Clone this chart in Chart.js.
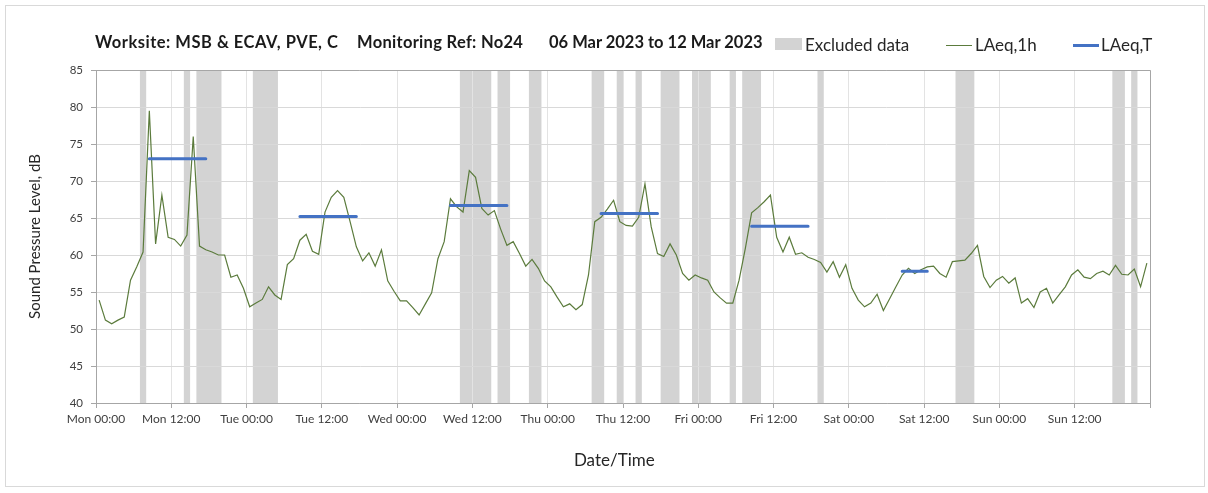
<!DOCTYPE html>
<html>
<head>
<meta charset="utf-8">
<script src="https://cdn.jsdelivr.net/npm/chart.js@4.4.1/dist/chart.umd.min.js"></script>
<style>
body { margin: 0; background: #fff; font-family: Lato, sans-serif; }
#wrap { position: relative; width: 1208px; height: 493px; overflow: hidden; }
#frame { position: absolute; left: 5px; top: 5px; width: 1198px; height: 480px; border: 1px solid #d9d9d9; }
canvas { position: absolute; left: 0; top: 0; }
.ttl { position: absolute; top: 32px; font-weight: bold; font-size: 16.5px; letter-spacing: 0.3px; color: #1a1a1a; white-space: pre; }
.leg { position: absolute; top: 34px; font-size: 17px; color: #262626; white-space: pre; }
.sw { position: absolute; }
</style>
</head>
<body>
<div id="wrap">
  <div id="frame"></div>
  <canvas id="myChart" width="1208" height="493"></canvas>
  <span class="ttl" style="left:95px;letter-spacing:0.5px">Worksite: MSB &amp; ECAV, PVE, C</span>
  <span class="ttl" style="left:357px">Monitoring Ref: No24</span>
  <span class="ttl" style="left:549px;letter-spacing:0">06 Mar 2023 to 12 Mar 2023</span>
  <div class="sw" style="left:775px;top:38px;width:27px;height:12px;background:#d3d3d3"></div>
  <span class="leg" style="left:805px">Excluded data</span>
  <div class="sw" style="left:946px;top:45px;width:26px;height:1px;background:#5b7b3c"></div>
  <span class="leg" style="left:975px">LAeq,1h</span>
  <div class="sw" style="left:1073px;top:44px;width:26px;height:3px;background:#4472c4"></div>
  <span class="leg" style="left:1101px">LAeq,T</span>
</div>
<script>
// hourly LAeq,1h, Mon 00:00 .. Sun 23:00
var laeq1h = [
  53.9, 51.2, 50.7, 51.2, 51.6, 56.6, 58.4, 60.4, 79.5, 61.5, 68.1, 62.4,
  62.1, 61.2, 62.7, 76.0, 61.2, 60.7, 60.4, 60.0, 60.0, 57.0, 57.3, 55.5,
  53.0, 53.5, 54.0, 55.7, 54.6, 54.0, 58.7, 59.5, 62.0, 62.8, 60.5, 60.1,
  65.8, 67.8, 68.7, 67.8, 64.5, 61.1, 59.2, 60.3, 58.5, 60.7, 56.5, 55.1,
  53.8, 53.8, 52.9, 51.9, 53.4, 54.9, 59.5, 61.8, 67.6, 66.5, 65.8, 71.4,
  70.5, 66.3, 65.4, 66.0, 63.5, 61.3, 61.8, 60.2, 58.5, 59.4, 58.2, 56.5,
  55.7, 54.3, 53.0, 53.4, 52.6, 53.3, 57.3, 64.5, 65.1, 66.2, 67.4, 64.5,
  64.0, 63.9, 65.1, 69.6, 63.8, 60.2, 59.8, 61.5, 60.0, 57.5, 56.6, 57.3,
  56.9, 56.6, 55.0, 54.2, 53.5, 53.5, 56.6, 60.9, 65.7, 66.4, 67.2, 68.1,
  62.4, 60.4, 62.4, 60.1, 60.3, 59.7, 59.4, 59.0, 57.7, 59.1, 57.0, 58.7,
  55.5, 53.9, 53.0, 53.5, 54.7, 52.5, 54.1, 55.7, 57.3, 58.2, 57.5, 58.0,
  58.4, 58.5, 57.5, 57.0, 59.1, 59.2, 59.3, 60.2, 61.3, 57.1, 55.6, 56.6,
  57.1, 56.2, 56.9, 53.5, 54.1, 52.9, 55.0, 55.5, 53.5, 54.6, 55.7, 57.3,
  58.0, 57.0, 56.8, 57.5, 57.8, 57.3, 58.6, 57.4, 57.3, 58.1, 55.7, 58.9
];

// LAeq,T periods (hours from Mon 00:00)
var periodStart = [8.5, 32.5, 56.5, 80.5, 104.5, 128.5];
var periodEnd = [17.5, 41.5, 65.5, 89.5, 113.5, 132.5];
var periodLevel = [73.0, 65.2, 66.7, 65.6, 63.9, 57.8];

// excluded data windows (hours)
var excludedStart = [7, 14, 16, 25, 58, 64, 69, 79, 83, 86, 90, 95, 101, 103, 115, 137, 162, 165];
var excludedEnd = [8, 15, 20, 29, 63, 66, 71, 81, 84, 87, 93, 98, 102, 106, 116, 140, 164, 166];

var tickLabels = ['Mon 00:00', 'Mon 12:00', 'Tue 00:00', 'Tue 12:00', 'Wed 00:00', 'Wed 12:00',
  'Thu 00:00', 'Thu 12:00', 'Fri 00:00', 'Fri 12:00', 'Sat 00:00', 'Sat 12:00',
  'Sun 00:00', 'Sun 12:00', ''];

var hourlyPts = laeq1h.map(function (v, i) { return { x: i + 0.5, y: v }; });
var periodPts = [];
for (var k = 0; k < periodStart.length; k++) {
  periodPts.push({ x: periodStart[k], y: periodLevel[k] });
  periodPts.push({ x: periodEnd[k], y: periodLevel[k] });
  periodPts.push({ x: periodEnd[k], y: null });
}

const bandPlugin = {
  id: 'bands',
  beforeDraw(chart) {
    const ctx = chart.ctx, a = chart.chartArea, x = chart.scales.x;
    ctx.save();
    ctx.fillStyle = '#d3d3d3';
    for (let k = 0; k < excludedStart.length; k++) {
      const x0 = x.getPixelForValue(excludedStart[k]);
      const x1 = x.getPixelForValue(excludedEnd[k]);
      ctx.fillRect(x0, a.top, x1 - x0, a.bottom - a.top);
    }
    ctx.restore();
  },
  afterDraw(chart) {
    const ctx = chart.ctx, a = chart.chartArea;
    ctx.save();
    ctx.strokeStyle = '#a6a6a6';
    ctx.lineWidth = 1;
    ctx.beginPath();
    ctx.moveTo(a.left, a.top + 0.5);
    ctx.lineTo(a.right + 0.5, a.top + 0.5);
    ctx.lineTo(a.right + 0.5, a.bottom);
    ctx.stroke();
    ctx.restore();
  }
};

Chart.defaults.font.family = 'Lato, sans-serif';

const ctx = document.getElementById('myChart').getContext('2d');
new Chart(ctx, {
  type: 'line',
  data: {
    datasets: [
      {
        label: 'LAeq,T',
        data: periodPts,
        borderColor: '#4472c4',
        borderWidth: 3,
        borderCapStyle: 'round',
        pointRadius: 0,
        spanGaps: false,
        order: 0
      },
      {
        label: 'LAeq,1h',
        data: hourlyPts,
        borderColor: '#5b7b3c',
        borderWidth: 1.2,
        pointRadius: 0,
        tension: 0,
        order: 1
      }
    ]
  },
  plugins: [bandPlugin],
  options: {
    responsive: false,
    animation: false,
    devicePixelRatio: 1,
    layout: { padding: { top: 70, right: 58, left: 0, bottom: 0 } },
    plugins: { legend: { display: false }, tooltip: { enabled: false } },
    scales: {
      x: {
        type: 'linear',
        min: 0,
        max: 168,
        afterFit: function (s) { s.height = 90; },
        afterBuildTicks: function (s) {
          s.ticks = tickLabels.map(function (t, i) { return { value: i * 12 }; });
        },
        ticks: {
          autoSkip: false,
          maxRotation: 0,
          padding: 4,
          color: '#404040',
          font: { size: 12 },
          callback: function (v) { return tickLabels[Math.round(v / 12)]; }
        },
        grid: { color: '#e3e3e3', tickColor: '#a6a6a6', tickLength: 5 },
        border: { color: '#a6a6a6' },
        title: {
          display: true,
          text: 'Date/Time    ',
          color: '#262626',
          font: { size: 17 },
          padding: { top: 0, bottom: 22 }
        }
      },
      y: {
        min: 40,
        max: 85,
        afterFit: function (s) { s.width = 96; },
        ticks: { stepSize: 5, padding: 8, color: '#404040', font: { size: 11.5 } },
        grid: { color: '#d9d9d9', tickColor: '#a6a6a6', tickLength: 5 },
        border: { color: '#a6a6a6' },
        title: {
          display: true,
          text: 'Sound Pressure Level, dB',
          color: '#262626',
          font: { size: 15 },
          padding: { top: 26, bottom: 0 }
        }
      }
    }
  }
});
</script>
</body>
</html>
